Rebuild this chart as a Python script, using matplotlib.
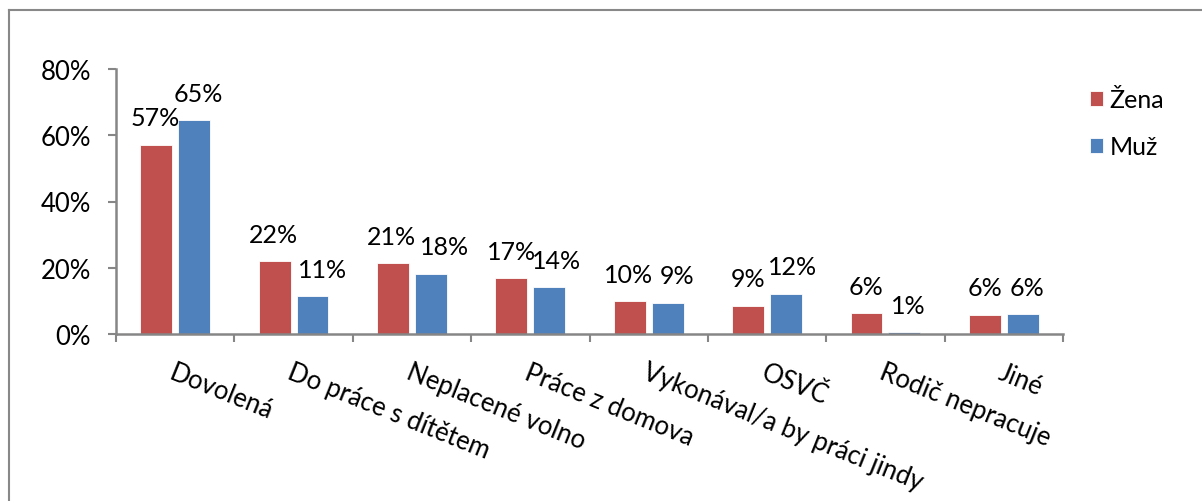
import matplotlib.pyplot as plt
from matplotlib.lines import Line2D
import numpy as np

categories = ["Dovolená", "Do práce s dítětem", "Neplacené volno", "Práce z domova",
              "Vykonával/a by práci jindy", "OSVČ", "Rodič nepracuje", "Jiné"]
zena = [57.1, 22.0, 21.3, 16.9, 9.9, 8.6, 6.3, 5.8]
muz = [64.6, 11.4, 18.2, 14.1, 9.4, 12.1, 0.6, 6.0]
series_names = ["Žena", "Muž"]
colors = ["#C0504D", "#4F81BD"]

# horizontal nudges of the value labels (points), as placed in the original
zena_label_dx = [-1, -1, -1, 0, -1, 0, 0, 0]
muz_label_dx = [3, 7, 10, 5, 7, 5, 3, 3]

plt.rcParams['font.family'] = ['Lato', 'DejaVu Sans']

fig = plt.figure(figsize=(12.02, 5.02), dpi=100)
ax = fig.add_axes([116 / 1202, 1 - 335 / 502, (1063 - 116) / 1202, (335 - 70) / 502])

x = np.arange(len(categories))
w = 0.27
off = 0.16
for vals, dxs, name, col, sgn in [(zena, zena_label_dx, series_names[0], colors[0], -1),
                                   (muz, muz_label_dx, series_names[1], colors[1], 1)]:
    bars = ax.bar(x + sgn * off, vals, width=w, color=col, edgecolor='white', linewidth=0.6, label=name)
    for b, v, dx in zip(bars, vals, dxs):
        ax.annotate(f"{round(v):.0f}%", (b.get_x() + b.get_width() / 2, v),
                    xytext=(dx, 14), textcoords='offset points',
                    ha='center', va='baseline', fontsize=18)

ax.set_xlim(-0.5, len(categories) - 0.5)
ax.set_ylim(0, 80)
ax.set_yticks([0, 20, 40, 60, 80])
ax.set_yticklabels([f"{t}%" for t in [0, 20, 40, 60, 80]], fontsize=18.5)

# category labels at centres, tick marks at boundaries
ax.set_xticks(x)
ax.set_xticklabels(categories, fontsize=18.5, rotation=-22, ha='left', va='top',
                   rotation_mode='anchor')
ax.tick_params(axis='x', which='major', length=0, pad=18)
ax.set_xticks(np.arange(-0.5, len(categories)), minor=True)
ax.tick_params(axis='x', which='minor', length=6, width=1.5, color='#868686')
ax.tick_params(axis='y', length=6, width=1.5, color='#868686', pad=12)

for s in ['top', 'right']:
    ax.spines[s].set_visible(False)
for s in ['left', 'bottom']:
    ax.spines[s].set_color('#868686')
    ax.spines[s].set_linewidth(1.8)

ax.legend(loc='upper left', bbox_to_anchor=(1067 / 1202, 1 - 67 / 502), bbox_transform=fig.transFigure,
          frameon=False, fontsize=18, handlelength=0.55, handleheight=0.55, handletextpad=0.25,
          labelspacing=0.95)

# chart area border (left and top edges visible)
fig.add_artist(Line2D([9 / 1202, 9 / 1202], [0, 1 - 11 / 502], color='#888888', linewidth=1.5))
fig.add_artist(Line2D([9 / 1202, 1], [1 - 11 / 502, 1 - 11 / 502], color='#888888', linewidth=1.5))

fig.savefig("out.png", dpi=100)
